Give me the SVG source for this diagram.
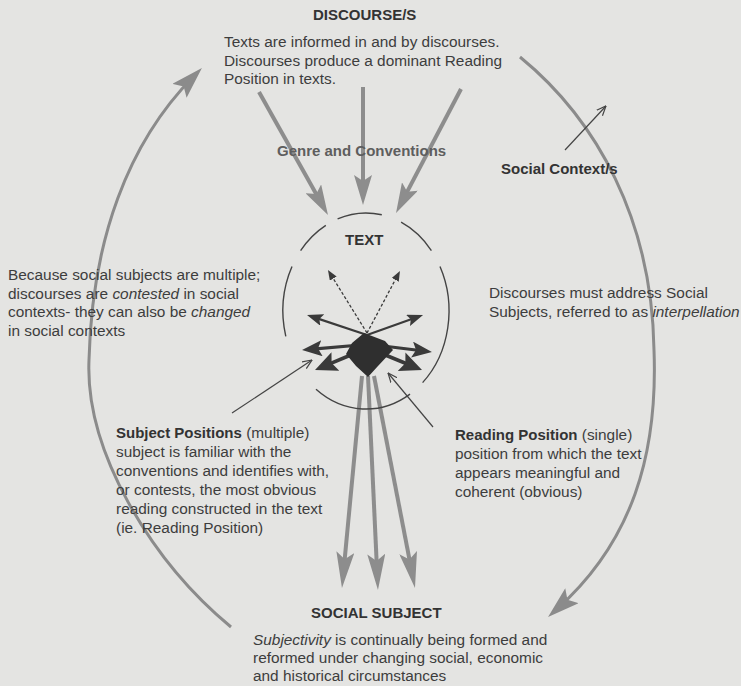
<svg xmlns="http://www.w3.org/2000/svg" width="741" height="686" viewBox="0 0 741 686">
<style>
text{font-family:"Liberation Sans",Arial,sans-serif;font-size:15.4px;fill:#3d3d3d}
.b{font-weight:bold;font-size:15px;fill:#333}
.g{fill:#5e5e5e}
.i{font-style:italic}
.arc{fill:none;stroke:#8b8b8b;stroke-width:3}
.thick{stroke:#8d8d8d;stroke-width:4;fill:none}
.dk{stroke:#3a3a3a;fill:none}
.thin{stroke:#444;stroke-width:1.2;fill:none}
.ell{fill:none;stroke:#444;stroke-width:1.4}
</style>
<defs>
<marker id="mTop" markerUnits="userSpaceOnUse" viewBox="0 0 30 18" markerWidth="30" markerHeight="18" refX="18" refY="9" orient="auto"><path d="M0,0 L30,9 L0,18 L6,9 z" fill="#8d8d8d"/></marker>
<marker id="mBot" markerUnits="userSpaceOnUse" viewBox="0 0 36 18" markerWidth="36" markerHeight="18" refX="24" refY="9" orient="auto"><path d="M0,0 L36,9 L0,18 L7,9 z" fill="#8d8d8d"/></marker>
<marker id="mArc" markerUnits="userSpaceOnUse" viewBox="0 0 32 20" markerWidth="32" markerHeight="20" refX="20" refY="10" orient="auto"><path d="M0,0 L32,10 L0,20 L6,10 z" fill="#8b8b8b"/></marker>
<marker id="mS" markerUnits="userSpaceOnUse" viewBox="0 0 10 8" markerWidth="10" markerHeight="8" refX="5" refY="4" orient="auto"><path d="M0,0 L10,4 L0,8 z" fill="#3a3a3a"/></marker>
<marker id="mM" markerUnits="userSpaceOnUse" viewBox="0 0 16 12" markerWidth="16" markerHeight="12" refX="10" refY="6" orient="auto"><path d="M0,0 L16,6 L0,12 L3,6 z" fill="#3a3a3a"/></marker>
<marker id="mL" markerUnits="userSpaceOnUse" viewBox="0 0 20 16" markerWidth="20" markerHeight="16" refX="12" refY="8" orient="auto"><path d="M0,0 L20,8 L0,16 L4,8 z" fill="#3a3a3a"/></marker>
<marker id="mXL" markerUnits="userSpaceOnUse" viewBox="0 0 22 20" markerWidth="22" markerHeight="20" refX="14" refY="10" orient="auto"><path d="M0,0 L22,10 L0,20 L4,10 z" fill="#3a3a3a"/></marker>
<marker id="mO" markerUnits="userSpaceOnUse" viewBox="0 0 10 10" markerWidth="10" markerHeight="10" refX="9.5" refY="5" orient="auto"><path d="M0,1 L9.5,5 L0,9" fill="none" stroke="#444" stroke-width="1.2"/></marker>
</defs>
<rect width="741" height="686" fill="#e4e4e2"/>

<g id="connectors">
  <path class="arc" d="M520,57 C597,120 652,220 654,350 C658,455 632,542 557,609" marker-end="url(#mArc)"/>
  <path class="arc" d="M231,627 C150,560 85,450 89,360 C92,240 128,143 193.5,76.5" marker-end="url(#mArc)"/>
  <line class="thick" x1="259" y1="92" x2="322.1" y2="204.5" marker-end="url(#mTop)"/>
  <line class="thick" x1="363" y1="87" x2="363" y2="193" marker-end="url(#mTop)"/>
  <line class="thick" x1="461" y1="89" x2="401.6" y2="202.4" marker-end="url(#mTop)"/>
  <line class="thick" x1="362" y1="376" x2="343.1" y2="576.1" marker-end="url(#mBot)"/>
  <line class="thick" x1="368" y1="376" x2="377.4" y2="578" marker-end="url(#mBot)"/>
  <line class="thick" x1="374" y1="376" x2="412.7" y2="576.2" marker-end="url(#mBot)"/>
  <line class="dk" stroke-width="1.3" stroke-dasharray="3 2" x1="367" y1="333" x2="330.6" y2="274.3" marker-end="url(#mS)"/>
  <line class="dk" stroke-width="1.3" stroke-dasharray="3 2" x1="367" y1="333" x2="397.6" y2="275.4" marker-end="url(#mS)"/>
  <line class="dk" stroke-width="2.2" x1="367" y1="335" x2="312.7" y2="316.9" marker-end="url(#mM)"/>
  <line class="dk" stroke-width="2.2" x1="367" y1="335" x2="417.4" y2="317" marker-end="url(#mM)"/>
  <line class="dk" stroke-width="3.2" x1="360" y1="345" x2="310" y2="349.3" marker-end="url(#mL)"/>
  <line class="dk" stroke-width="3.2" x1="375" y1="345" x2="424" y2="351" marker-end="url(#mL)"/>
  <line class="dk" stroke-width="3.6" x1="358" y1="352" x2="322.4" y2="366.9" marker-end="url(#mXL)"/>
  <line class="dk" stroke-width="3.6" x1="378" y1="352" x2="414.6" y2="367" marker-end="url(#mXL)"/>
  <polygon points="364,333 385,341 393,350 378,366 368,377 356,366 346,354 352,343" fill="#2f2f2f"/>
  <line class="thin" x1="232" y1="413" x2="312" y2="360" marker-end="url(#mO)"/>
  <line class="thin" x1="433" y1="427" x2="388" y2="373" marker-end="url(#mO)"/>
  <line class="thin" x1="565" y1="150" x2="606" y2="106" marker-end="url(#mO)"/>
</g>

<g id="discourse">
  <text class="b" x="313" y="19.5">DISCOURSE/S</text>
  <text x="224" y="47">Texts are informed in and by discourses.</text>
  <text x="224" y="65.5">Discourses produce a dominant Reading</text>
  <text x="224" y="84">Position in texts.</text>
</g>

<g id="genre">
  <text class="b g" x="277" y="156">Genre and Conventions</text>
</g>

<g id="social-context">
  <text class="b" x="501" y="174">Social Context/s</text>
</g>

<g id="text-node">
  <path class="ell" d="M337.6,218.9 A83,98 0 0 1 381.8,214.8"/>
  <path class="ell" d="M300.6,250.6 A83,98 0 0 1 325.8,225.3"/>
  <path class="ell" d="M401.1,222.2 A83,98 0 0 1 431.4,250.6"/>
  <path class="ell" d="M285.8,336.4 A83,98 0 0 1 292,266.5"/>
  <path class="ell" d="M440,266.5 A83,98 0 0 1 422.6,382.6"/>
  <path class="ell" d="M410,394.1 A83,98 0 0 1 316,389.3"/>
  <text class="b" x="345" y="245">TEXT</text>
</g>

<g id="left-note">
  <text x="8" y="280">Because social subjects are multiple;</text>
  <text x="8" y="298.5">discourses are <tspan class="i">contested</tspan> in social</text>
  <text x="8" y="317">contexts- they can also be <tspan class="i">changed</tspan></text>
  <text x="8" y="335.5">in social contexts</text>
</g>

<g id="right-note">
  <text x="489" y="298">Discourses must address Social</text>
  <text x="489" y="316.5">Subjects, referred to as <tspan class="i">interpellation</tspan></text>
</g>

<g id="subject-positions">
  <text x="116" y="437.5"><tspan class="b">Subject Positions</tspan> (multiple)</text>
  <text x="116" y="456.5">subject is familiar with the</text>
  <text x="116" y="475.5">conventions and identifies with,</text>
  <text x="116" y="494.5">or contests, the most obvious</text>
  <text x="116" y="513.5">reading constructed in the text</text>
  <text x="116" y="532.5">(ie. Reading Position)</text>
</g>

<g id="reading-position">
  <text x="455" y="440"><tspan class="b">Reading Position</tspan> (single)</text>
  <text x="455" y="459">position from which the text</text>
  <text x="455" y="478">appears meaningful and</text>
  <text x="455" y="497">coherent (obvious)</text>
</g>

<g id="social-subject">
  <text class="b" x="311" y="618">SOCIAL SUBJECT</text>
  <text x="253" y="645"><tspan class="i">Subjectivity</tspan> is continually being formed and</text>
  <text x="253" y="663">reformed under changing social, economic</text>
  <text x="253" y="681">and historical circumstances</text>
</g>
</svg>
